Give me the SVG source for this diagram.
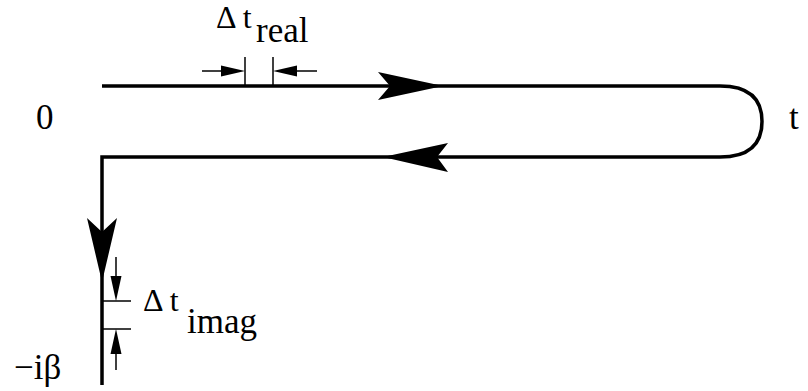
<svg xmlns="http://www.w3.org/2000/svg" width="808" height="391" viewBox="0 0 808 391">
<style>
.main{fill:none;stroke:#000;stroke-width:3.5}
.thin{fill:none;stroke:#000;stroke-width:1.5}
.head{fill:#000;stroke:none}
text{fill:#000;font-family:"Liberation Serif","Times New Roman",serif}
.big{font-size:35px}
.sub{font-size:35px}
.delta{font-size:32px}
</style>
<rect width="808" height="391" fill="#fff"/>
<g id="contour">
<path class="main" d="M102,86 H720 C750,86 762,100 762,121.5 C762,143 750,157 720,157 H102 V385"/>
</g>
<g id="connectors">
<polygon class="head" points="443,86 378,72 390,86 378,100"/>
<polygon class="head" points="383,157 448,143 437,157 448,172"/>
<polygon class="head" points="102,282 87,218 102,232 117,218"/>
</g>
<g id="dim-real">
<line class="thin" x1="245" y1="57" x2="245" y2="85"/>
<line class="thin" x1="273" y1="57" x2="273" y2="85"/>
<line class="thin" x1="202" y1="71" x2="225" y2="71"/>
<polygon class="head" points="245,71 221,65.5 221,76.5"/>
<line class="thin" x1="293" y1="71" x2="317" y2="71"/>
<polygon class="head" points="273,71 297,65.5 297,76.5"/>
<text class="delta" x="216" y="28">Δ t</text>
<text class="sub" x="256" y="42">real</text>
</g>
<g id="dim-imag">
<line class="thin" x1="102" y1="301" x2="131" y2="301"/>
<line class="thin" x1="102" y1="329" x2="131" y2="329"/>
<line class="thin" x1="116" y1="257" x2="116" y2="280"/>
<polygon class="head" points="116,301 110.5,276 121.5,276"/>
<line class="thin" x1="116" y1="350" x2="116" y2="370"/>
<polygon class="head" points="116,329 110.5,354 121.5,354"/>
<text class="delta" x="143" y="311">Δ t</text>
<text class="sub" x="187" y="333">imag</text>
</g>
<g id="labels">
<text class="big" x="36" y="129">0</text>
<text class="big" x="789" y="129">t</text>
<text class="big" x="14" y="379">−iβ</text>
</g>
</svg>
